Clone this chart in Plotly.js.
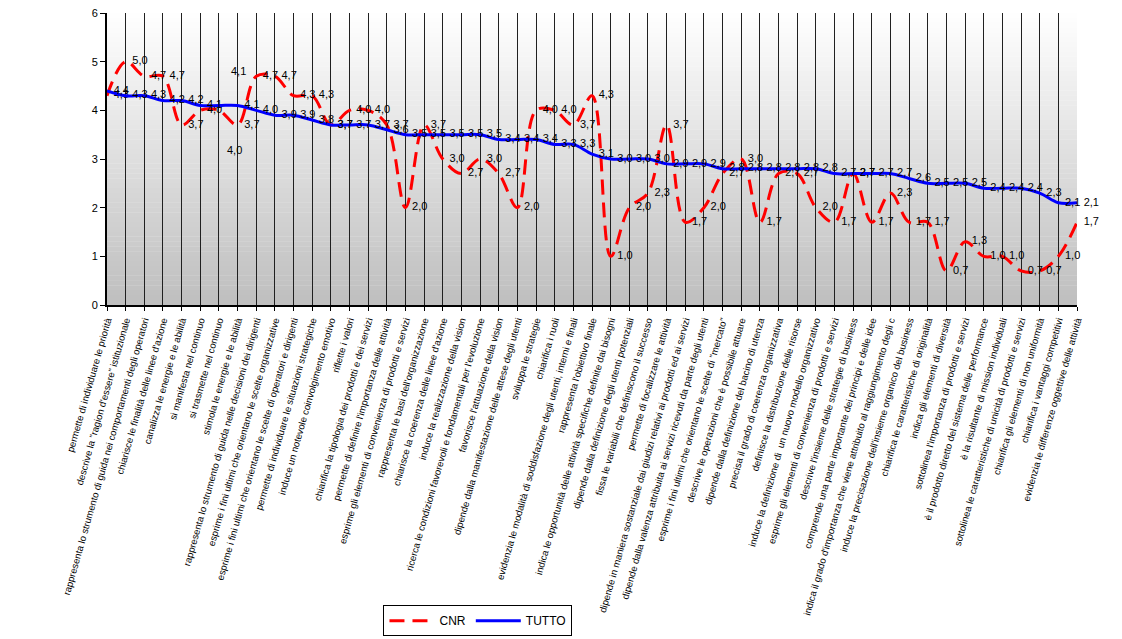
<!DOCTYPE html>
<html>
<head>
<meta charset="utf-8">
<script src="https://cdn.plot.ly/plotly-3.0.1.min.js"></script>
<style>html,body{margin:0;padding:0;background:#fff;}#chart{width:1122px;height:639px;}</style>
</head>
<body>
<div id="chart"></div>
<script>
const categories = [
  "permette di individuare le priorità",
  "descrive la \"ragion d'essere\" istituzionale",
  "rappresenta lo strumento di guida nei comportamenti degli operatori",
  "chiarisce le finalità delle linee d'azione",
  "canalizza le energie e le abilità",
  "si manifesta nel continuo",
  "si trasmette nel continuo",
  "stimola le energie e le abilità",
  "rappresenta lo strumento di guida nelle decisioni dei dirigenti",
  "esprime i fini ultimi che orientano le scelte organizzative",
  "esprime i fini ultimi che orientano le scelte di operatori e dirigenti",
  "permette di individuare le situazioni strategiche",
  "induce un notevole coinvolgimento emotivo",
  "riflette i valori",
  "chiarifica la tipologia dei prodotti e dei servizi",
  "permette di definire l'importanza delle attività",
  "esprime gli elementi di convenienza di prodotti e servizi",
  "rappresenta le basi dell'organizzazione",
  "chiarisce la coerenza delle linee d'azione",
  "induce la realizzazione della vision",
  "ricerca le condizioni favorevoli e fondamentali per l'evoluzione",
  "favorisce l'attuazione della vision",
  "dipende dalla manifestazione delle attese degli utenti",
  "sviluppa le strategie",
  "chiarifica i ruoli",
  "evidenzia le modalità di soddisfazione degli utenti, interni e finali",
  "rappresenta l'obiettivo finale",
  "indica le opportunità delle attività specifiche definite dai bisogni",
  "dipende dalla definizione degli utenti potenziali",
  "fissa le variabili che definiscono il successo",
  "permette di focalizzare le attività",
  "dipende in maniera sostanziale dai giudizi relativi ai prodotti ed ai servizi",
  "dipende dalla valenza attribuita ai servizi ricevuti da parte degli utenti",
  "esprime i fini ultimi che orientano le scelte di \"mercato\"",
  "descrive le operazioni che è possibile attuare",
  "dipende dalla definizione del bacino di utenza",
  "precisa il grado di coerenza organizzativa",
  "definisce la distribuzione delle risorse",
  "induce la definizione di  un nuovo modello organizzativo",
  "esprime gli elementi di convenienza di prodotti e servizi",
  "descrive l'insieme delle strategie di business",
  "comprende una parte importante dei principi e delle idee",
  "indica il grado d'importanza che viene attribuito al raggiungimento degli c",
  "induce la precisazione dell'insieme organico del business",
  "chiarifica le caratteristiche di originalità",
  "indica gli elementi di diversità",
  "sottolinea l'importanza di prodotti e servizi",
  "è il prodotto diretto del sistema delle performance",
  "è la risultante di mission individuali",
  "sottolinea le caratteristiche di unicità di prodotti e servizi",
  "chiarifica gli elementi di non uniformità",
  "chiarifica i vantaggi competitivi",
  "evidenzia le differenze oggettive delle attività"
];

const cnr = [4.3,5.0,4.7,4.7,3.7,4.0,4.0,3.7,4.7,4.7,4.3,4.3,3.7,4.0,4.0,3.7,2.0,3.7,3.0,2.7,
  3.0,2.7,2.0,4.0,4.0,3.7,4.3,1.0,2.0,2.3,3.7,1.7,2.0,2.7,3.0,1.7,2.7,2.7,2.0,1.7,
  2.7,1.7,2.3,1.7,1.7,0.7,1.3,1.0,1.0,0.7,0.7,1.0,1.7];

const tutto = [4.4,4.3,4.3,4.2,4.2,4.1,4.1,4.1,4.0,3.9,3.9,3.8,3.7,3.7,3.7,3.6,3.5,3.5,3.5,3.5,
  3.5,3.4,3.4,3.4,3.3,3.3,3.1,3.0,3.0,3.0,2.9,2.9,2.9,2.8,2.8,2.8,2.8,2.8,2.8,2.7,
  2.7,2.7,2.7,2.6,2.5,2.5,2.5,2.4,2.4,2.4,2.3,2.1,2.1];

const seriesNames = ["CNR", "TUTTO"];
const yTicks = [0,1,2,3,4,5,6];

const xs = categories.map((_, i) => i);
const fmt = v => v.toFixed(1).replace('.', ',');

// labels moved away from their point in the reference (index 6)
const MOVED = 6;
const cnrText = cnr.map((v, i) => i === MOVED ? '' : fmt(v));
const tutText = tutto.map((v, i) => i === MOVED ? '' : fmt(v));

const FONT = 'Arial, "Liberation Sans", sans-serif';

const traces = [
  {
    x: xs, y: cnr, name: seriesNames[0], type: 'scatter', mode: 'lines+markers+text',
    line: {color: '#ff0000', width: 3, dash: '15px,8px', shape: 'spline', smoothing: 1},
    marker: {size: 9, color: 'rgba(0,0,0,0)', line: {width: 0}},
    text: cnrText, textposition: 'middle right',
    textfont: {family: FONT, size: 11, color: '#000'},
    cliponaxis: false, hoverinfo: 'x+y'
  },
  {
    x: xs, y: tutto, name: seriesNames[1], type: 'scatter', mode: 'lines+markers+text',
    line: {color: '#0000ff', width: 3, shape: 'spline', smoothing: 1},
    marker: {size: 9, color: 'rgba(0,0,0,0)', line: {width: 0}},
    text: tutText, textposition: 'middle right',
    textfont: {family: FONT, size: 11, color: '#000'},
    cliponaxis: false, hoverinfo: 'x+y'
  }
];

const annotations = [
  {x: MOVED, y: tutto[MOVED], xref: 'x', yref: 'y', text: fmt(tutto[MOVED]), showarrow: false,
   xanchor: 'left', xshift: 10, yshift: 34, font: {family: FONT, size: 11, color: '#000'}},
  {x: MOVED, y: cnr[MOVED], xref: 'x', yref: 'y', text: fmt(cnr[MOVED]), showarrow: false,
   xanchor: 'left', xshift: 6, yshift: -40, font: {family: FONT, size: 11, color: '#000'}}
];

// gradient background bands
const shapes = [];
const N = 60;
for (let k = 0; k < N; k++) {
  const t = (k + 0.5) / N;
  const g = Math.round(255 - (255 - 190) * t);
  shapes.push({
    type: 'rect', xref: 'paper', yref: 'paper', layer: 'below',
    x0: 0, x1: 1, y0: 1 - (k + 1) / N, y1: 1 - k / N + 0.001,
    line: {width: 0}, fillcolor: `rgb(${g},${g},${g})`
  });
}

const layout = {
  width: 1122, height: 639,
  margin: {l: 107, r: 45, t: 13, b: 334},
  paper_bgcolor: '#ffffff', plot_bgcolor: 'rgba(0,0,0,0)',
  font: {family: FONT, size: 11, color: '#000'},
  showlegend: true,
  legend: {
    orientation: 'h', xref: 'container', yref: 'container',
    x: 0.426, xanchor: 'center', y: 0.053, yanchor: 'top',
    bordercolor: '#000', borderwidth: 1, bgcolor: '#fff',
    font: {family: FONT, size: 12, color: '#000'}, itemwidth: 45
  },
  xaxis: {
    range: [0, categories.length - 1],
    tickmode: 'array', tickvals: xs, ticktext: categories,
    tickangle: -74, tickfont: {family: FONT, size: 9.6, color: '#000'},
    showgrid: true, gridcolor: '#202020', gridwidth: 1,
    showline: true, linecolor: '#000', linewidth: 2,
    ticks: 'outside', ticklen: 4, tickcolor: '#000',
    zeroline: false, automargin: false, fixedrange: true
  },
  yaxis: {
    range: [0, 6], tickmode: 'array', tickvals: yTicks,
    showgrid: false, zeroline: false,
    showline: true, linecolor: '#000', linewidth: 2,
    ticks: 'outside', ticklen: 5, tickcolor: '#000',
    tickfont: {family: FONT, size: 11, color: '#000'},
    automargin: false, fixedrange: true
  },
  annotations: annotations,
  shapes: shapes
};

Plotly.newPlot('chart', traces, layout, {displayModeBar: false, staticPlot: true});
</script>
</body>
</html>
